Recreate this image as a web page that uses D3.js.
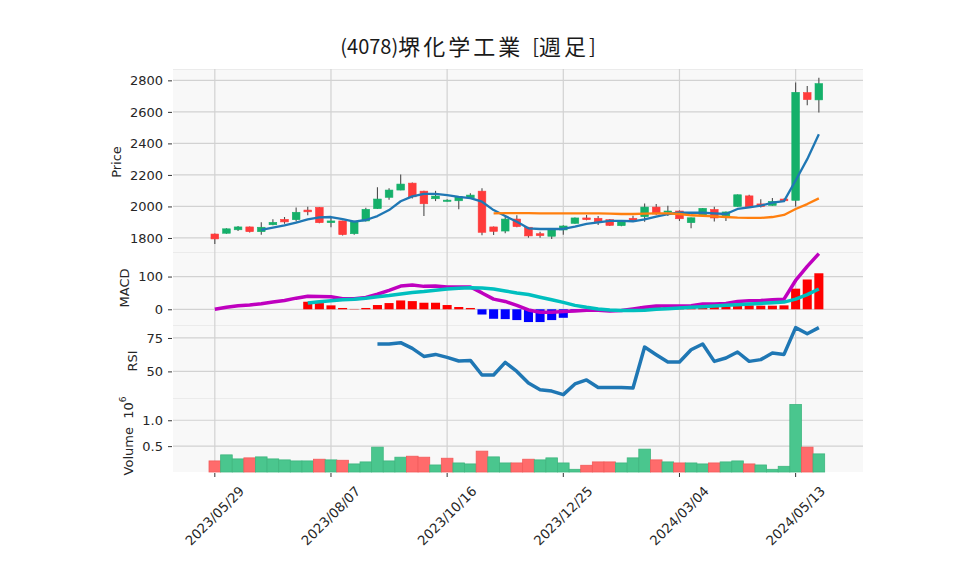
<!DOCTYPE html>
<html>
<head>
<meta charset="utf-8">
<script src="https://cdn.jsdelivr.net/npm/d3@7"></script>
<style>
  body { margin: 0; background: #ffffff; }
  svg { display: block; }
  text { white-space: pre; }
</style>
</head>
<body>
<svg id="chart"></svg>
<script>
const dates = [
  "2023/05/29","2023/06/05","2023/06/12","2023/06/19","2023/06/26","2023/07/03","2023/07/10","2023/07/17","2023/07/24","2023/07/31",
  "2023/08/07","2023/08/14","2023/08/21","2023/08/28","2023/09/04","2023/09/11","2023/09/18","2023/09/25","2023/10/02","2023/10/09",
  "2023/10/16","2023/10/23","2023/10/30","2023/11/06","2023/11/13","2023/11/20","2023/11/27","2023/12/04","2023/12/11","2023/12/18",
  "2023/12/25","2024/01/01","2024/01/08","2024/01/15","2024/01/22","2024/01/29","2024/02/05","2024/02/12","2024/02/19","2024/02/26",
  "2024/03/04","2024/03/11","2024/03/18","2024/03/25","2024/04/01","2024/04/08","2024/04/15","2024/04/22","2024/04/29","2024/05/06",
  "2024/05/13","2024/05/20","2024/05/27"
];

const open = [1825,1830,1852,1870,1840,1884,1918,1916,1977,1994,1897,1908,1827,1908,1986,2058,2104,2148,2097,2049,
  2036,2036,2055,2097,1870,1844,1920,1868,1827,1811,1851,1893,1927,1925,1916,1878,1925,1935,1996,1967,
  1971,1897,1943,1981,1940,2000,2067,2016,2007,2047,2039,2722,2676];
const high = [1828,1862,1876,1873,1900,1918,1933,1994,1998,1997,1928,1910,1910,1992,2121,2115,2203,2152,2099,2099,
  2046,2063,2083,2115,1873,1935,1944,1870,1840,1860,1880,1930,1946,1939,1920,1912,1941,2019,2015,2005,
  1975,1930,1990,1998,1968,2076,2074,2045,2054,2050,2786,2764,2817];
const low = [1762,1826,1844,1834,1821,1880,1890,1905,1944,1893,1868,1815,1820,1905,1984,2042,2102,2051,1939,2034,
  2032,1982,2052,1817,1819,1830,1868,1802,1802,1794,1821,1890,1912,1882,1876,1875,1905,1903,1948,1940,
  1908,1862,1940,1905,1908,1998,1992,1994,2004,2030,2000,2642,2596];
const close = [1794,1858,1870,1840,1868,1899,1902,1963,1966,1897,1908,1821,1906,1982,2047,2104,2142,2061,2017,2066,
  2040,2061,2072,1836,1842,1920,1872,1813,1815,1857,1876,1927,1916,1903,1880,1908,1910,1996,1952,1971,
  1922,1928,1988,1927,1965,2074,1996,1999,2032,2036,2724,2678,2779];

// 5-week and 25-week moving averages
const ma5 = [null,null,null,null,1851,1865,1880,1897,1918,1931,1933,1920,1903,1914,1939,1977,2033,2064,2080,2080,
  2072,2061,2053,2030,1977,1939,1903,1861,1857,1857,1857,1872,1889,1899,1908,1908,1906,1918,1935,1952,
  1960,1960,1960,1956,1952,1984,1994,2005,2024,2034,2165,2300,2458];
const ma25 = [null,null,null,null,null,null,null,null,null,null,null,null,null,null,null,null,null,null,null,null,
  null,null,null,null,1956,1958,1958,1958,1956,1956,1956,1956,1956,1956,1954,1952,1952,1954,1956,1956,
  1952,1944,1941,1937,1933,1929,1927,1927,1933,1946,1984,2015,2051];

const macd = [0,6,11,13,17,22,27,34,40,39,38,32,32,36,46,58,71,74,70,71,
  68,68,68,50,31,24,12,-2,-9,-9,-7,-5,-3,-3,-5,-4,1,6,10,10,
  10,11,16,16,18,24,26,27,29,31,88,131,170];
const signal = [null,null,null,null,null,null,null,null,19,23,26,29,31,34,38,42,47,51,54,58,
  62,64,66,65,62,56,50,45,37,29,21,12,6,1,-2,-4,-4,-3,0,2,
  4,6,8,10,12,14,16,18,20,22,31,45,62];
const hist = [null,null,null,null,null,null,null,null,23,19,12,4,1,4,13,19,27,25,20,20,
  13,7,4,-16,-29,-30,-33,-39,-39,-33,-26,-8,-5,-3,-2,0,4,10,13,13,
  13,12,10,9,9,12,12,11,11,12,63,91,110];

const rsi = [null,null,null,null,null,null,null,null,null,null,null,null,null,null,70.5,70.5,71.5,67.2,61.2,62.7,
  60.5,57.8,58.2,47.3,47.3,56.7,50.0,41.3,36.3,35.3,32.6,40.6,43.6,38.0,38.0,38.0,37.6,68.2,62.5,57.0,
  57.0,66.2,70.5,57.5,60.0,64.5,57.5,58.8,63.8,62.7,82.7,78.2,82.7];

// weekly volume, millions of shares
const volume = [0.214,0.331,0.253,0.273,0.292,0.253,0.234,0.214,0.214,0.247,0.234,0.227,0.156,0.195,0.48,0.214,0.286,0.305,0.286,0.136,
  0.266,0.175,0.156,0.403,0.292,0.175,0.175,0.247,0.234,0.273,0.175,0.052,0.13,0.195,0.195,0.175,0.273,0.442,0.234,0.195,
  0.175,0.175,0.156,0.175,0.195,0.214,0.156,0.136,0.052,0.11,1.305,0.48,0.35];

const xTickIdx = [0, 10, 20, 30, 40, 50];
const priceTicks = [1800, 2000, 2200, 2400, 2600, 2800];
const macdTicks = [0, 100];
const rsiTicks = [50, 75];
const volTicks = [0.5, 1.0];

const width = 958, height = 575;
const svg = d3.select("#chart").attr("width", width).attr("height", height);
const FONT = "'DejaVu Sans', sans-serif";

const x = d3.scaleLinear().domain([-3.6, 55.8]).range([173, 863]);
const step = x(1) - x(0);
const idx = d3.range(dates.length);

const panels = {
  price: { top: 69, bottom: 252, domain: [1711, 2872], ticks: priceTicks, fmt: d3.format("d") },
  macd:  { top: 252, bottom: 325, domain: [-48, 175], ticks: macdTicks, fmt: d3.format("d") },
  rsi:   { top: 325, bottom: 398, domain: [30.1, 84.7], ticks: rsiTicks, fmt: d3.format("d") },
  vol:   { top: 398, bottom: 472, domain: [0, 1.43], ticks: volTicks, fmt: d3.format(".1f") }
};
Object.values(panels).forEach(p => {
  p.y = d3.scaleLinear().domain(p.domain).range([p.bottom, p.top]);
});

// panel backgrounds + grid
Object.values(panels).forEach(p => {
  svg.append("rect")
    .attr("x", x.range()[0]).attr("y", p.top)
    .attr("width", x.range()[1] - x.range()[0]).attr("height", p.bottom - p.top)
    .attr("fill", "#f8f8f8");
  svg.append("line")
    .attr("x1", x.range()[0]).attr("x2", x.range()[1])
    .attr("y1", p.top + 0.5).attr("y2", p.top + 0.5)
    .attr("stroke", "#ebebeb").attr("stroke-width", 1);

  const g = svg.append("g");
  g.selectAll("line.h").data(p.ticks).enter().append("line")
    .attr("x1", x.range()[0]).attr("x2", x.range()[1])
    .attr("y1", d => p.y(d)).attr("y2", d => p.y(d))
    .attr("stroke", "#d2d2d2").attr("stroke-width", 1.2);
  g.selectAll("line.v").data(xTickIdx).enter().append("line")
    .attr("x1", d => x(d)).attr("x2", d => x(d))
    .attr("y1", p.top).attr("y2", p.bottom)
    .attr("stroke", "#d2d2d2").attr("stroke-width", 1.2);

  const ax = svg.append("g")
    .attr("transform", `translate(${x.range()[0] - 1},0)`)
    .call(d3.axisLeft(p.y).tickValues(p.ticks).tickFormat(p.fmt).tickSize(4).tickPadding(5));
  ax.select(".domain").remove();
  ax.selectAll(".tick line").attr("stroke", "#333");
  ax.selectAll(".tick text").attr("fill", "#262626").style("font-family", FONT).style("font-size", "13px");
});

// x axis
const xa = svg.append("g").attr("transform", `translate(0,${panels.vol.bottom})`);
xa.selectAll("line").data(xTickIdx).enter().append("line")
  .attr("x1", d => x(d)).attr("x2", d => x(d))
  .attr("y1", 1).attr("y2", 5)
  .attr("stroke", "#333");
xa.selectAll("text").data(xTickIdx).enter().append("text")
  .attr("transform", d => `translate(${x(d)},44) rotate(-45)`)
  .attr("text-anchor", "middle")
  .attr("dominant-baseline", "central")
  .attr("fill", "#262626")
  .style("font-family", FONT).style("font-size", "13.3px")
  .text(d => dates[d]);

// candles
const upC = "#15b06a", downC = "#ff3b3b";
const pc = panels.price;
const cg = svg.append("g");
cg.selectAll("line").data(idx).enter().append("line")
  .attr("x1", i => x(i)).attr("x2", i => x(i))
  .attr("y1", i => pc.y(high[i])).attr("y2", i => pc.y(low[i]))
  .attr("stroke", "#4d4d4d").attr("stroke-width", 1.1);
cg.selectAll("rect").data(idx).enter().append("rect")
  .attr("x", i => x(i) - step * 0.33)
  .attr("width", step * 0.66)
  .attr("y", i => pc.y(Math.max(open[i], close[i])))
  .attr("height", i => Math.max(1.2, Math.abs(pc.y(open[i]) - pc.y(close[i]))))
  .attr("fill", i => close[i] >= open[i] ? upC : downC)
  .attr("stroke", i => close[i] >= open[i] ? upC : downC)
  .attr("stroke-width", 0.6);

function drawLine(data, yScale, color, w) {
  svg.append("path")
    .datum(idx)
    .attr("fill", "none")
    .attr("stroke", color)
    .attr("stroke-width", w)
    .attr("stroke-linejoin", "round")
    .attr("d", d3.line().defined(i => data[i] != null).x(i => x(i)).y(i => yScale(data[i])));
}
drawLine(ma5, pc.y, "#1f77b4", 2.3);
drawLine(ma25, pc.y, "#ff7f0e", 2.3);

// MACD
const pm = panels.macd;
svg.append("g").selectAll("rect").data(idx.filter(i => hist[i] != null)).enter().append("rect")
  .attr("x", i => x(i) - step * 0.39)
  .attr("width", step * 0.78)
  .attr("y", i => pm.y(Math.max(0, hist[i])))
  .attr("height", i => Math.abs(pm.y(hist[i]) - pm.y(0)))
  .attr("fill", i => hist[i] >= 0 ? "#ff0000" : "#0000ff");
drawLine(macd, pm.y, "#bf00bf", 3.5);
drawLine(signal, pm.y, "#00bfbf", 3.5);

// RSI
drawLine(rsi, panels.rsi.y, "#1f77b4", 3.5);

// Volume
const pv = panels.vol;
const volUp = i => i === 0 ? close[i] >= open[i] : close[i] >= close[i - 1];
svg.append("g").selectAll("rect").data(idx).enter().append("rect")
  .attr("x", i => x(i) - step / 2)
  .attr("width", step)
  .attr("y", i => pv.y(volume[i]))
  .attr("height", i => pv.y(0) - pv.y(volume[i]))
  .attr("fill", i => volUp(i) ? "#4ac68e" : "#ff6b6b")
  .attr("stroke", i => volUp(i) ? "#3fb67f" : "#f25a5a")
  .attr("stroke-width", 0.8);

// axis labels
function yLabel(txt, cx, cy) {
  return svg.append("text")
    .attr("transform", `translate(${cx},${cy}) rotate(-90)`)
    .attr("text-anchor", "middle")
    .attr("dominant-baseline", "central")
    .attr("fill", "#262626")
    .style("font-family", FONT).style("font-size", "13px")
    .text(txt);
}
yLabel("Price", 116, 162);
yLabel("MACD", 124, 288);
yLabel("RSI", 132, 361);
const vl = yLabel("Volume  10", 128, 436);
vl.append("tspan").attr("dy", -5).style("font-size", "9px").text("6");

// title: CJK glyphs get extra spacing to match the wider original font
const title = svg.append("text")
  .attr("x", 468).attr("y", 45)
  .attr("text-anchor", "middle")
  .attr("dominant-baseline", "central")
  .attr("fill", "#1a1a1a")
  .style("font-family", "'Noto Sans CJK JP', sans-serif")
  .style("font-size", "20px");
[["(4078)", 20, 0], ["堺化学工業", 22, 3], ["  [", 20, 0], ["週足", 22, 3], ["]", 20, 0]].forEach(([t, s, ls]) => {
  title.append("tspan").style("font-size", s + "px").style("letter-spacing", ls + "px").text(t);
});
</script>
</body>
</html>
